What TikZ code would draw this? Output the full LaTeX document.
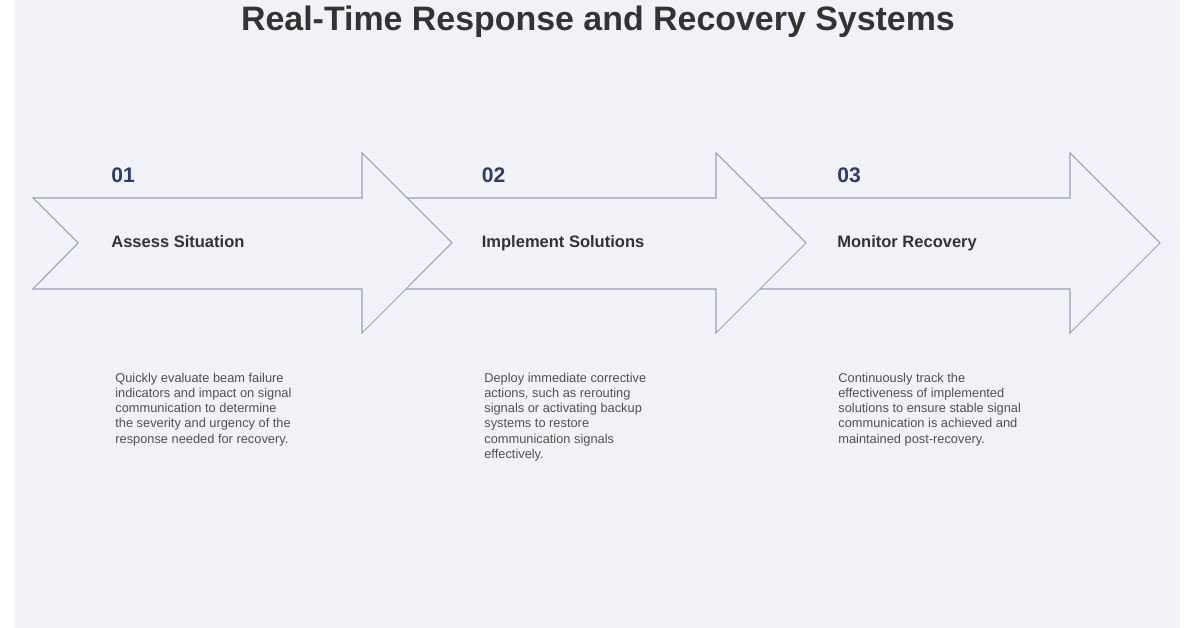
\documentclass[tikz,border=0pt]{standalone}
\usepackage{fontspec}
\setmainfont{Liberation Sans}
\usetikzlibrary{positioning}
\definecolor{bgcol}{HTML}{F1F2F7}
\definecolor{numcol}{HTML}{2E3B6B}
\definecolor{edgecol}{HTML}{9AA0B0}
\definecolor{txtcol}{HTML}{333333}
\newcommand{\stp}{7.08}

\begin{document}
\begin{tikzpicture}[
    arrowshape/.style={draw=edgecol, fill=bgcol, line width=0.6pt, line join=miter},
    num/.style={anchor=base west, font=\bfseries\fontsize{12}{14}\selectfont, text=numcol, inner sep=0pt},
    phase/.style={anchor=base west, font=\bfseries\fontsize{9.4}{11}\selectfont, text=txtcol, inner sep=0pt},
    desc/.style={anchor=north west, align=left, font=\fontsize{7.3}{8.6}\selectfont, text=txtcol!85, inner sep=0pt}]
    \useasboundingbox (0,0) rectangle (23.92,12.56);
    \fill[white] (0,0) rectangle (23.92,12.56);
    \fill[bgcol] (0.3,0) rectangle (23.6,12.56);

    % Title
    \node[font=\bfseries\fontsize{19.3}{22}\selectfont, text=txtcol] (title) at (11.96,12.13) {Real-Time Response and Recovery Systems};

    % Arrows, right to left so each one lies over the next
    \foreach \i in {2,1,0} {
        \draw[arrowshape] (0.66+\i*\stp,8.6) -- (7.24+\i*\stp,8.6) -- (7.24+\i*\stp,9.5)
            -- (9.04+\i*\stp,7.7) -- (7.24+\i*\stp,5.9) -- (7.24+\i*\stp,6.78)
            -- (0.66+\i*\stp,6.78) -- (1.56+\i*\stp,7.7) -- cycle;
    }

    % First phase
    \node[num] (num-1) at (2.22,8.9) {01};
    \node[phase] (phase-1) at (2.22,7.6) {Assess Situation};
    \node[desc] (desc-1) at (2.3,5.1) {Quickly evaluate beam failure\\indicators and impact on signal\\communication to determine\\the severity and urgency of the\\response needed for recovery.};

    % Second phase
    \node[num] (num-2) at (9.63,8.9) {02};
    \node[phase] (phase-2) at (9.63,7.6) {Implement Solutions};
    \node[desc] (desc-2) at (9.68,5.1) {Deploy immediate corrective\\actions, such as rerouting\\signals or activating backup\\systems to restore\\communication signals\\effectively.};

    % Third phase
    \node[num] (num-3) at (16.74,8.9) {03};
    \node[phase] (phase-3) at (16.74,7.6) {Monitor Recovery};
    \node[desc] (desc-3) at (16.76,5.1) {Continuously track the\\effectiveness of implemented\\solutions to ensure stable signal\\communication is achieved and\\maintained post-recovery.};

\end{tikzpicture}
\end{document}
